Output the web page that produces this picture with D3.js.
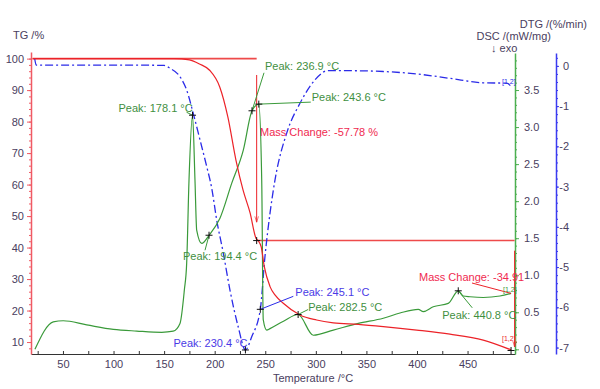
<!DOCTYPE html>
<html lang="en">
<head>
    <meta charset="utf-8">
    <script type="text/javascript" src="https://d3js.org/d3.v7.min.js"></script>
    <style>
        body { margin: 0; background: #fff; }
        text { font-family: "Liberation Sans", Arial, sans-serif; }
    </style>
</head>

<body>
    <script type="text/javascript">
        let w = 600;
        let h = 389;

        // TG curve (temperature, %)
        let tgT = [20, 160, 175, 185, 195, 205, 213, 221, 228, 235, 240.8, 243, 246, 249, 254.7, 260, 267.5, 284.3, 300.8, 317.3, 342, 366.7, 399.7, 432.6, 465.5, 493];
        let tgV = [100, 100, 99.6, 98.3, 96.3, 91, 81.5, 67.8, 58.3, 51, 43, 42.2, 40.2, 34, 27.6, 24.8, 22.4, 18.6, 17, 16.1, 15.6, 14.9, 13.8, 12.5, 10.6, 7.5];

        // DSC curve (temperature, mW/mg)
        let dscT = [22.3, 40.4, 50.3, 73.5, 99.8, 122.9, 147.6, 159, 165.7, 170, 172.3, 174.6, 178.1, 180.5, 182.2, 187.2, 194.4, 205.2, 216.8, 228.3, 236.9, 243.6, 246.5, 248, 251.4, 254.7, 268, 282.5, 297.5, 317.3, 342, 366.7, 383.2, 401.3, 406.2, 416.1, 430.9, 440.8, 445.8, 452.4, 465.5, 482, 493];
        let dscV = [0, 0.37, 0.386, 0.33, 0.27, 0.247, 0.23, 0.245, 0.35, 0.8, 1.16, 2.28, 3.16, 2.29, 1.61, 1.43, 1.54, 1.77, 2.24, 2.69, 3.22, 3.31, 2.28, 0.4, 0.26, 0.28, 0.38, 0.47, 0.19, 0.26, 0.35, 0.42, 0.49, 0.54, 0.51, 0.575, 0.62, 0.79, 0.72, 0.71, 0.70, 0.72, 0.755];

        // DTG curve (temperature, %/min)
        let dtgT = [22, 23.5, 60, 120, 150, 155.8, 165.7, 172.3, 178.8, 185.5, 192.1, 197, 202, 208.5, 215.1, 223.3, 230.4, 236.6, 245.1, 249.7, 254.7, 259.6, 271.2, 284.3, 294.2, 304.1, 310.7, 333.8, 366.7, 399.7, 432.6, 465.5, 488.7, 493.6];
        let dtgV = [0.19, 0.02, 0.02, 0.02, 0.01, -0.06, -0.27, -0.6, -1.18, -1.84, -2.5, -3.03, -3.83, -4.65, -5.57, -6.49, -7.06, -6.73, -6.05, -4.74, -3.66, -2.84, -1.67, -0.93, -0.51, -0.22, -0.12, -0.12, -0.14, -0.2, -0.31, -0.42, -0.43, -0.53];

        // tick values
        let tempTicks = [50, 100, 150, 200, 250, 300, 350, 400, 450];
        let tgTicks = [10, 20, 30, 40, 50, 60, 70, 80, 90, 100];
        let dscTicks = [0, 0.5, 1, 1.5, 2, 2.5, 3, 3.5];
        let dtgTicks = [-7, -6, -5, -4, -3, -2, -1, 0];

        // peaks and mass changes
        let dscPeakT = [178.1, 194.4, 236.9, 243.6, 282.5, 440.8];
        let dscPeakV = [3.16, 1.54, 3.22, 3.31, 0.47, 0.79];
        let dtgPeakT = [230.4, 245.1];
        let dtgPeakV = [-7.06, -6.05];
        let massStepT = [241.5, 496.5];
        let massLevels = [100, 42.22, 7.31];
        let massChanges = [-57.78, -34.91];

        let red = "#ec2228", green = "#3a9a3a", blue = "#2b2be8";
        let labelColor = "#4a4060";

        let x = d3.scaleLinear().domain([18.4, 496.9]).range([31, 515]);
        let yTG = d3.scaleLinear().domain([6.2, 102.1]).range([354, 52]);
        let yDSC = d3.scaleLinear().domain([-0.063, 4.0]).range([354, 53]);
        let yDTG = d3.scaleLinear().domain([-7.16, 0.32]).range([354, 53]);

        let svg = d3.select("body").append("svg")
            .attr("width", w)
            .attr("height", h);

        let defs = svg.append("defs");
        defs.append("marker")
            .attr("id", "arr")
            .attr("viewBox", "0 0 10 10")
            .attr("refX", 10).attr("refY", 5)
            .attr("markerWidth", 6).attr("markerHeight", 6)
            .attr("orient", "auto-start-reverse")
            .append("path")
            .attr("d", "M0,2 L10,5 L0,8")
            .attr("fill", "none")
            .attr("stroke", red);

        // axes
        function styleAxis(g, col) {
            g.select(".domain").attr("stroke", col).attr("stroke-width", 1.5);
            g.selectAll(".tick line").attr("stroke", col);
            g.selectAll(".tick text").attr("fill", labelColor).style("font-size", "11px");
        }

        let minorTemp = d3.range(25, 497, 25);
        svg.append("g")
            .attr("transform", "translate(0,354)")
            .call(d3.axisBottom(x).tickValues(minorTemp).tickSizeInner(-3).tickSizeOuter(0).tickPadding(6)
                .tickFormat(function(d) { return tempTicks.indexOf(d) >= 0 ? d : ""; }))
            .call(function(g) {
                g.select(".domain").attr("stroke", "#333");
                g.selectAll(".tick line").attr("stroke", "#333");
                g.selectAll(".tick text").attr("fill", labelColor).style("font-size", "11px");
            });

        svg.append("g")
            .attr("transform", "translate(31,0)")
            .call(d3.axisLeft(yTG).tickValues(d3.range(8, 102, 2)).tickSize(2).tickFormat(""))
            .call(function(g) { g.select(".domain").remove(); g.selectAll(".tick line").attr("stroke", "#f05a64"); });
        svg.append("g")
            .attr("transform", "translate(31,0)")
            .call(d3.axisLeft(yTG).tickValues(tgTicks).tickSizeInner(4).tickSizeOuter(0).tickPadding(3))
            .call(function(g) { styleAxis(g, "#f05a64"); });

        svg.append("g")
            .attr("transform", "translate(515,0)")
            .call(d3.axisRight(yDSC).tickValues(d3.range(0, 40, 1).map(function(d) { return d / 10; })).tickSize(2).tickFormat(""))
            .call(function(g) { g.select(".domain").remove(); g.selectAll(".tick line").attr("stroke", "#4caf50"); });
        svg.append("g")
            .attr("transform", "translate(515,0)")
            .call(d3.axisRight(yDSC).tickValues(dscTicks).tickSizeInner(4).tickSizeOuter(0).tickPadding(5).tickFormat(d3.format(".1f")))
            .call(function(g) { styleAxis(g, "#4caf50"); });

        svg.append("g")
            .attr("transform", "translate(556,0)")
            .call(d3.axisRight(yDTG).tickValues(d3.range(-35, 2, 1).map(function(d) { return d / 5; })).tickSize(2).tickFormat(""))
            .call(function(g) { g.select(".domain").remove(); g.selectAll(".tick line").attr("stroke", "#3b3bf0"); });
        svg.append("g")
            .attr("transform", "translate(556,0)")
            .call(d3.axisRight(yDTG).tickValues(dtgTicks).tickSizeInner(3).tickSizeOuter(0)
                .tickFormat(function(d) { return String(d); }))
            .call(function(g) {
                styleAxis(g, "#3b3bf0");
                g.selectAll(".tick text").attr("x", 13).attr("text-anchor", "end");
            });

        // axis titles
        function label(txt, px, py, col, anchor, size) {
            return svg.append("text")
                .attr("x", px).attr("y", py)
                .attr("fill", col)
                .attr("text-anchor", anchor || "start")
                .style("font-size", (size || 11) + "px")
                .text(txt);
        }
        label("TG /%", 13, 39, labelColor);
        label("DTG /(%/min)", 587, 28, labelColor, "end");
        label("DSC /(mW/mg)", 551, 40, labelColor, "end");
        label("\u2193 exo", 491, 52, labelColor);
        label("Temperature /\u00b0C", 313, 382, labelColor, "middle");

        // mass change guides
        svg.append("line")
            .attr("x1", x(20)).attr("x2", x(massStepT[0]))
            .attr("y1", yTG(massLevels[0])).attr("y2", yTG(massLevels[0]))
            .attr("stroke", "#ee4a4a").attr("stroke-width", 1.6);
        svg.append("line")
            .attr("x1", x(massStepT[0])).attr("x2", x(massStepT[1]))
            .attr("y1", yTG(massLevels[1])).attr("y2", yTG(massLevels[1]))
            .attr("stroke", "#ee4a4a").attr("stroke-width", 1.6);
        svg.append("line")
            .attr("x1", x(massStepT[0])).attr("x2", x(massStepT[0]))
            .attr("y1", yTG(94.8)).attr("y2", yTG(48))
            .attr("stroke", red).attr("stroke-width", 1)
            .attr("marker-end", "url(#arr)");
        svg.append("line")
            .attr("x1", x(massStepT[1])).attr("x2", x(massStepT[1]))
            .attr("y1", yTG(39)).attr("y2", yTG(8.4))
            .attr("stroke", red).attr("stroke-width", 1)
            .attr("marker-end", "url(#arr)");

        // curves
        let tgData = tgT.map(function(t, i) { return [t, tgV[i]]; });
        let dscData = dscT.map(function(t, i) { return [t, dscV[i]]; });
        let dtgData = dtgT.map(function(t, i) { return [t, dtgV[i]]; });

        svg.append("path")
            .datum(dtgData)
            .attr("fill", "none")
            .attr("stroke", blue)
            .attr("stroke-width", 1.3)
            .attr("stroke-dasharray", "8,3,2,3")
            .attr("d", d3.line().curve(d3.curveMonotoneX)
                .x(function(d) { return x(d[0]); })
                .y(function(d) { return yDTG(d[1]); }));

        svg.append("path")
            .datum(dscData)
            .attr("fill", "none")
            .attr("stroke", green)
            .attr("stroke-width", 1.2)
            .attr("d", d3.line().curve(d3.curveMonotoneX)
                .x(function(d) { return x(d[0]); })
                .y(function(d) { return yDSC(d[1]); }));

        svg.append("path")
            .datum(tgData)
            .attr("fill", "none")
            .attr("stroke", red)
            .attr("stroke-width", 1.2)
            .attr("d", d3.line().curve(d3.curveMonotoneX)
                .x(function(d) { return x(d[0]); })
                .y(function(d) { return yTG(d[1]); }));

        // peak labels: [dx, dy] of label anchor from marker
        let dscLabelPos = [[-74, -3], [-26, 25], [13, -41], [53, -3], [10, -4], [-16, 28]];
        let dscLeader = [[-6, -3], [-4, 15], [12, -38], [52, -2], [10, -5], [14, 17]];
        let dtgLabelPos = [[-72, -3], [35, -13]];
        let dtgLeader = [[0, 0], [33, -13]];

        function plus(px, py) {
            svg.append("path")
                .attr("d", "M" + (px - 3.5) + "," + py + "H" + (px + 3.5) + "M" + px + "," + (py - 3.5) + "V" + (py + 3.5))
                .attr("stroke", "#111").attr("stroke-width", 1);
        }

        dscPeakT.forEach(function(t, i) {
            let px = x(t), py = yDSC(dscPeakV[i]);
            svg.append("line")
                .attr("x1", px).attr("y1", py)
                .attr("x2", px + dscLeader[i][0]).attr("y2", py + dscLeader[i][1])
                .attr("stroke", green).attr("stroke-width", 1);
            label("Peak: " + t.toFixed(1) + " \u00b0C", px + dscLabelPos[i][0], py + dscLabelPos[i][1], "#3f8f3f");
            plus(px, py);
        });

        dtgPeakT.forEach(function(t, i) {
            let px = x(t), py = yDTG(dtgPeakV[i]);
            svg.append("line")
                .attr("x1", px).attr("y1", py)
                .attr("x2", px + dtgLeader[i][0]).attr("y2", py + dtgLeader[i][1])
                .attr("stroke", blue).attr("stroke-width", 1);
            label("Peak: " + t.toFixed(1) + " \u00b0C", px + dtgLabelPos[i][0], py + dtgLabelPos[i][1], "#4a3ae6");
            plus(px, py);
        });

        // mass change labels
        label("Mass Change: " + massChanges[0].toFixed(2) + " %", 260, 136, "#f02a50");
        svg.append("line")
            .attr("x1", 472).attr("y1", 283)
            .attr("x2", x(493)).attr("y2", yDSC(0.755))
            .attr("stroke", red).attr("stroke-width", 1);
        label("Mass Change: " + massChanges[1].toFixed(2), 419, 281, "#f02a50");

        plus(x(massStepT[0]), yTG(massLevels[1]));
        plus(x(493), yTG(massLevels[2]));

        // curve tags at the end
        label("[1,2]", 502, 84, blue, "start", 7);
        label("[1,2]", 503, 292, green, "start", 7);
        label("[1,2]", 502, 341, red, "start", 7);
    </script>
</body>
</html>
